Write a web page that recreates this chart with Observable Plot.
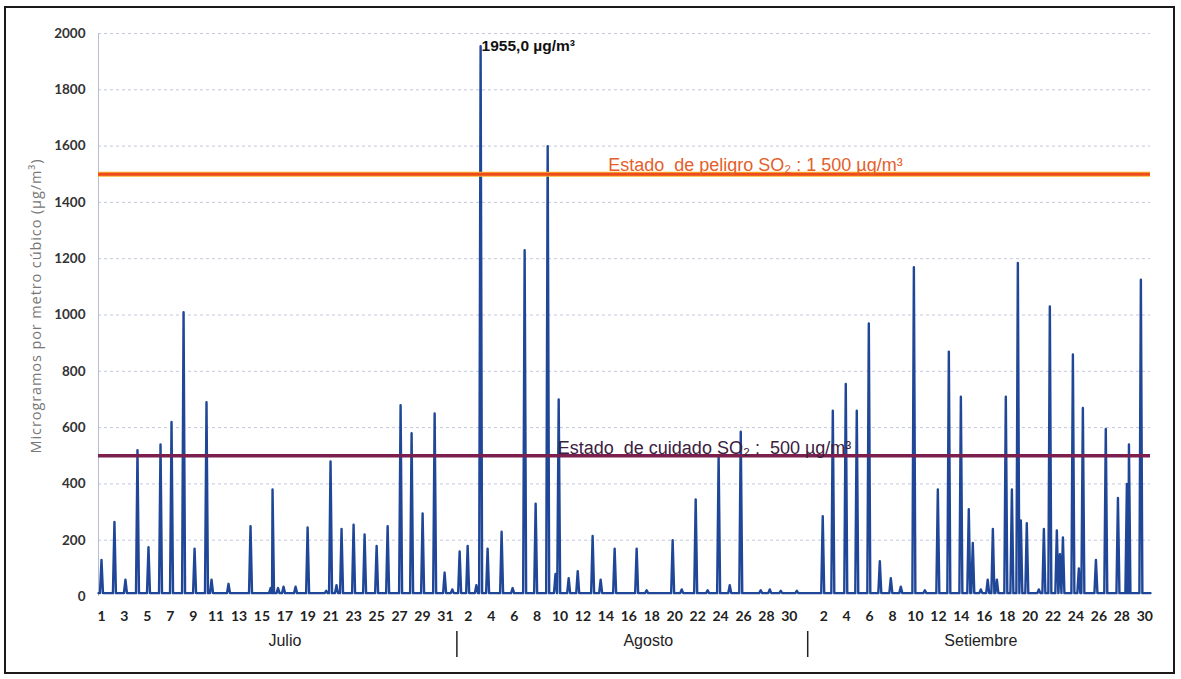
<!DOCTYPE html>
<html><head><meta charset="utf-8">
<script src="https://cdn.jsdelivr.net/npm/d3@7"></script>
<script src="https://cdn.jsdelivr.net/npm/@observablehq/plot@0.6"></script>
<style>
body{margin:0;background:#fff;}
#wrap{position:relative;width:1181px;height:679px;overflow:hidden;background:#fff;}
#frame{position:absolute;left:4px;top:6px;width:1171px;height:668px;box-sizing:border-box;border:2px solid #1a1a1a;}
#ylab{position:absolute;left:35px;top:306px;transform:translate(-50%,-50%) rotate(-90deg);white-space:nowrap;font-family:'Open Sans';font-size:14.5px;color:#777;letter-spacing:0.9px;}
#chart{position:absolute;left:0;top:0;}
</style></head><body>
<div id="wrap"><div id="frame"></div><div id="chart"></div><div id="ylab">Microgramos por metro cúbico (µg/m³)</div></div>
<script>
// ---- data ----
const months = ["Julio", "Agosto", "Setiembre"];
const monthOffsets = [0, 31, 62];
const monthLabelPos = [16, 47.7, 76.7];
const monthBreaks = [31, 61.6];
const julyTickDays = [1,3,5,7,9,11,13,15,17,19,21,23,25,27,29,31];
const augustTickDays = [2,4,6,8,10,12,14,16,18,20,22,24,26,28,30];
const septemberTickDays = [2,4,6,8,10,12,14,16,18,20,22,24,26,28,30];
const yTicks = [0,200,400,600,800,1000,1200,1400,1600,1800,2000];

// spike times (day index from 1 July = 0) and peak concentrations (µg/m³)
const spikeDay = [
  0.0,1.13,2.09,3.14,4.1,5.15,6.11,7.16,8.12,9.16,9.6,11.08,13.0,14.75,14.92,15.4,15.88,16.93,17.98,19.6,19.98,20.5,20.94,21.99,22.95,24.0,24.96,26.09,27.05,28.01,29.06,29.93,30.6,
  31.24,31.94,32.7,33.07,33.68,34.9,35.86,36.91,37.87,38.92,39.6,39.88,40.75,41.54,42.84,43.54,44.76,46.68,47.55,49.82,50.61,51.83,52.87,53.83,54.8,55.76,57.5,58.29,59.25,60.65,
  62.91,63.79,64.92,65.88,66.93,67.89,68.85,69.72,70.86,71.82,72.95,73.91,74.96,75.65,76.0,76.7,77.3,77.75,78.1,78.88,79.41,79.93,80.19,80.71,81.76,82.2,82.72,83.33,83.6,83.86,84.73,85.25,85.6,86.74,87.6,88.66,89.44,89.62,90.66
];
const spikeValue = [
  130,265,60,520,175,540,620,1010,170,690,60,45,250,30,380,30,35,35,245,20,480,40,240,255,220,180,250,680,580,295,650,85,25,
  160,180,40,1955,170,230,30,1230,330,1600,80,700,65,90,215,60,170,170,22,200,25,345,22,500,40,585,22,25,20,20,
  285,660,755,660,970,125,65,35,1170,22,380,870,710,310,190,25,60,240,60,710,380,1185,270,260,25,240,1030,235,150,210,860,100,670,130,595,350,400,540,1125
];
const baseline = 12;
const thresholds = [1500, 500];
const thresholdLabels = ["Estado  de peligro SO₂ : 1 500 µg/m³", "Estado  de cuidado SO₂ :  500 µg/m³"];
const peakLabel = "1955,0 µg/m³";

// ---- derived tables ----
const tickIdx = [], tickText = new Map();
[julyTickDays, augustTickDays, septemberTickDays].forEach((days, m) => {
  days.forEach(d => { const i = monthOffsets[m] + d - 1; tickIdx.push(i); tickText.set(i, String(d)); });
});
const monthText = new Map(monthLabelPos.map((p, i) => [p, months[i]]));

const hw = 0.13;
let pts = [{x: -0.26, y: baseline}];
spikeDay.forEach((d, i) => {
  pts.push({x: d - hw, y: baseline}, {x: d, y: spikeValue[i]}, {x: d + hw, y: baseline});
});
pts.push({x: 91.5, y: baseline});
pts = pts.filter(p => p.x >= -0.26).sort((a, b) => a.x - b.x);

const peakI = d3.maxIndex(spikeValue);
const peak = [{x: spikeDay[peakI], y: spikeValue[peakI], t: peakLabel}];
const thr = thresholds.map((v, i) => ({v, t: thresholdLabels[i]}));

const plot = Plot.plot({
  width: 1181, height: 679,
  marginLeft: 98, marginRight: 31, marginTop: 33, marginBottom: 83,
  style: {background: "transparent", fontFamily: "Lato", overflow: "visible"},
  x: {domain: [-0.26, 91.5]},
  y: {domain: [0, 2000]},
  marks: [
    Plot.ruleY(yTicks.filter(v => v > 0), {stroke: "#c2c7dc", strokeDasharray: "3,3", strokeWidth: 1}),
    Plot.ruleX([-0.26], {stroke: "#b8bdd2", strokeWidth: 1}),
    Plot.axisY({ticks: yTicks, tickFormat: d => String(d), tickSize: 0, tickPadding: 13, fontSize: 13.5, fontWeight: "bold", fill: "#333", label: null}),
    Plot.axisX({ticks: tickIdx, tickFormat: i => tickText.get(i), tickSize: 0, tickPadding: 15, fontSize: 14, fontWeight: "bold", fill: "#222", label: null}),
    Plot.axisX({ticks: monthLabelPos, tickFormat: p => monthText.get(p), tickSize: 0, tickPadding: 38, fontSize: 16, fontFamily: "Liberation Sans", fill: "#222", label: null}),
    Plot.axisX({ticks: monthBreaks, tickFormat: () => "", tickSize: 26, dy: 35, stroke: "#222", strokeWidth: 1.5, label: null}),
    Plot.line(pts, {x: "x", y: "y", stroke: "#1f4697", strokeWidth: 2.4, strokeLinejoin: "round"}),
    Plot.ruleY([thresholds[0]], {stroke: "#f8b52a", strokeWidth: 5}),
    Plot.ruleY([thresholds[0]], {stroke: "#ee4a1f", strokeWidth: 3.2}),
    Plot.ruleY([thresholds[1]], {stroke: "#7b1f4f", strokeWidth: 3.5}),
    Plot.text([thr[0]], {x: () => 44.2, y: "v", text: "t", textAnchor: "start", lineAnchor: "bottom", dy: -3, fontSize: 18, fontFamily: "Liberation Sans", fill: "#e4602a", ariaLabel: "peligro"}),
    Plot.text([thr[1]], {x: () => 39.8, y: "v", text: "t", textAnchor: "start", lineAnchor: "bottom", dy: -2, fontSize: 18, fontFamily: "Liberation Sans", fill: "#3b2140", ariaLabel: "cuidado"}),
    Plot.text(peak, {x: "x", y: "y", text: "t", textAnchor: "start", lineAnchor: "middle", dx: 1, fontSize: 15.5, fontWeight: "bold", fontFamily: "Liberation Sans", fill: "#111"})
  ]
});
document.getElementById("chart").appendChild(plot);
d3.select(plot).selectAll('g[aria-label="peligro"] text, g[aria-label="cuidado"] text').style("letter-spacing", "1.5px").style("white-space", "pre");
</script>
</body></html>
